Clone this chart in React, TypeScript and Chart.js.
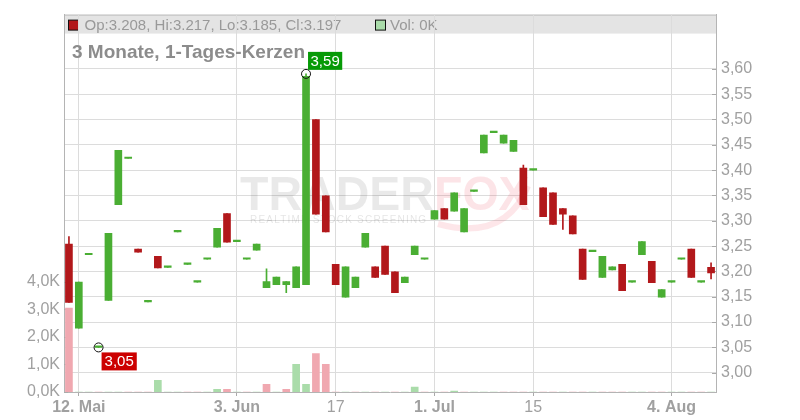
import { useEffect, useRef } from 'react';
import { Chart, registerables } from 'chart.js';

Chart.register(...registerables);

const dates = ['09.05','12.05','13.05','14.05','15.05','16.05','19.05','20.05','21.05','22.05','23.05','26.05','27.05','28.05','29.05','30.05','02.06','03.06','04.06','05.06','06.06','09.06','10.06','11.06','12.06','13.06','16.06','17.06','18.06','19.06','20.06','23.06','24.06','25.06','26.06','27.06','30.06','01.07','02.07','03.07','04.07','07.07','08.07','09.07','10.07','11.07','14.07','15.07','16.07','17.07','18.07','21.07','22.07','23.07','24.07','25.07','28.07','29.07','30.07','31.07','01.08','04.08','05.08','06.08','07.08','08.08'];

const opens = [
  3.254, 3.088, 3.233, 3.050, 3.143, 3.332, 3.423, 3.244, 3.140, 3.230,
  3.208, 3.278, 3.214, 3.179, 3.224, 3.248, 3.314, 3.259, 3.224, 3.242,
  3.168, 3.174, 3.174, 3.168, 3.174, 3.500, 3.349, 3.214, 3.149, 3.168,
  3.248, 3.209, 3.250, 3.199, 3.178, 3.233, 3.224, 3.303, 3.324, 3.319,
  3.278, 3.358, 3.434, 3.474, 3.453, 3.437, 3.404, 3.400, 3.365, 3.355,
  3.324, 3.310, 3.244, 3.239, 3.188, 3.203, 3.214, 3.179, 3.233, 3.220,
  3.149, 3.179, 3.224, 3.244, 3.179, 3.208,
];
const closes = [
  3.139, 3.179, 3.233, 3.050, 3.275, 3.439, 3.423, 3.238, 3.140, 3.207,
  3.208, 3.278, 3.214, 3.179, 3.224, 3.285, 3.258, 3.259, 3.224, 3.254,
  3.180, 3.189, 3.180, 3.209, 3.585, 3.313, 3.278, 3.174, 3.209, 3.189,
  3.275, 3.188, 3.194, 3.158, 3.189, 3.250, 3.224, 3.320, 3.303, 3.355,
  3.324, 3.358, 3.469, 3.474, 3.469, 3.459, 3.332, 3.400, 3.308, 3.293,
  3.313, 3.274, 3.184, 3.239, 3.230, 3.209, 3.162, 3.179, 3.259, 3.178,
  3.164, 3.179, 3.224, 3.188, 3.179, 3.197,
];
const highs = [
  3.269, 3.179, 3.233, 3.050, 3.275, 3.439, 3.423, 3.244, 3.140, 3.230,
  3.208, 3.278, 3.214, 3.179, 3.224, 3.285, 3.314, 3.259, 3.224, 3.254,
  3.205, 3.189, 3.180, 3.209, 3.590, 3.500, 3.349, 3.214, 3.209, 3.189,
  3.275, 3.209, 3.250, 3.199, 3.189, 3.250, 3.224, 3.320, 3.324, 3.355,
  3.324, 3.358, 3.469, 3.474, 3.469, 3.459, 3.410, 3.400, 3.365, 3.355,
  3.324, 3.310, 3.244, 3.239, 3.230, 3.209, 3.214, 3.179, 3.259, 3.220,
  3.164, 3.179, 3.224, 3.244, 3.179, 3.217,
];
const lows = [
  3.139, 3.088, 3.233, 3.050, 3.143, 3.332, 3.423, 3.238, 3.140, 3.207,
  3.208, 3.278, 3.214, 3.179, 3.224, 3.248, 3.258, 3.259, 3.224, 3.242,
  3.168, 3.174, 3.158, 3.168, 3.174, 3.313, 3.278, 3.174, 3.149, 3.168,
  3.248, 3.188, 3.194, 3.158, 3.178, 3.233, 3.224, 3.303, 3.303, 3.319,
  3.278, 3.358, 3.434, 3.474, 3.453, 3.437, 3.332, 3.400, 3.308, 3.293,
  3.283, 3.274, 3.184, 3.239, 3.188, 3.203, 3.162, 3.179, 3.233, 3.178,
  3.149, 3.179, 3.224, 3.188, 3.179, 3.185,
];
// volume in thousands
const volumes = [
  3.04, 0, 0, 0, 0, 0, 0, 0, 0, 0.42,
  0, 0, 0, 0, 0, 0.10, 0.10, 0, 0, 0,
  0.28, 0, 0.10, 1.00, 0.28, 1.39, 1.00, 0, 0, 0,
  0, 0, 0, 0, 0, 0.18, 0, 0, 0, 0.03,
  0, 0, 0, 0, 0, 0, 0, 0, 0, 0,
  0, 0, 0, 0, 0, 0, 0, 0, 0, 0,
  0, 0, 0, 0, 0, 0,
];

const priceTicks = [3.00, 3.05, 3.10, 3.15, 3.20, 3.25, 3.30, 3.35, 3.40, 3.45, 3.50, 3.55, 3.60];
const volumeTicks = [0, 1, 2, 3, 4];
const tickDates = ['12.05', '03.06', '17.06', '01.07', '15.07', '04.08'];
const tickTexts = ['12. Mai', '3. Jun', '17', '1. Jul', '15', '4. Aug'];
const tickBold = [true, true, false, true, false, true];
const titleText = '3 Monate, 1-Tages-Kerzen';

const UP = '#4aae33';
const DOWN = '#b2181b';
const VOL_UP = '#aadcaa';
const VOL_DOWN = '#f0a8b0';
const GRID = '#dcdcdc';
const AXIS = '#b4b4b4';
const TEXT = '#a0a0a0';
const FONT = '"Liberation Sans", Arial, Helvetica, sans-serif';

const fmt2 = (v: number) => v.toFixed(2).replace('.', ',');

const headerPlugin = {
  id: 'header',
  beforeDraw(chart: any) {
    const { ctx, chartArea: a } = chart;
    const last = opens.length - 1;
    ctx.save();
    ctx.fillStyle = '#e4e4e4';
    ctx.fillRect(a.left, a.top, a.right - a.left, 19);
    ctx.strokeStyle = '#bcbcbc';
    ctx.lineWidth = 1;
    ctx.beginPath();
    ctx.moveTo(a.left, a.top + 0.5);
    ctx.lineTo(a.right, a.top + 0.5);
    ctx.stroke();
    // candle legend square
    ctx.fillStyle = closes[last] >= opens[last] ? UP : DOWN;
    ctx.fillRect(a.left + 4.5, a.top + 5.5, 10, 10);
    ctx.strokeStyle = '#111';
    ctx.strokeRect(a.left + 4.5, a.top + 5.5, 10, 10);
    ctx.font = `15px ${FONT}`;
    ctx.fillStyle = '#999999';
    ctx.textBaseline = 'alphabetic';
    ctx.fillText(
      `Op:${opens[last].toFixed(3)}, Hi:${highs[last].toFixed(3)}, Lo:${lows[last].toFixed(3)}, Cl:${closes[last].toFixed(3)}`,
      a.left + 20.5, a.top + 15.5
    );
    // volume legend square
    ctx.fillStyle = VOL_UP;
    ctx.fillRect(a.left + 311.5, a.top + 5.5, 10, 10);
    ctx.strokeStyle = '#111';
    ctx.strokeRect(a.left + 311.5, a.top + 5.5, 10, 10);
    ctx.fillStyle = '#999999';
    ctx.fillText(`Vol: ${Math.round(volumes[last])}K`, a.left + 326, a.top + 15.5);
    ctx.restore();
  },
  beforeDatasetsDraw(chart: any) {
    const { ctx, chartArea: a, scales } = chart;
    ctx.save();
    // watermark
    ctx.font = `bold 49px ${FONT}`;
    ctx.textBaseline = 'alphabetic';
    ctx.save();
    ctx.translate(240, 210);
    ctx.scale(0.95, 1);
    ctx.fillStyle = 'rgba(0,0,0,0.085)';
    ctx.fillText('TRADER', 0, 0);
    const w = ctx.measureText('TRADER').width;
    ctx.fillStyle = 'rgba(235,50,70,0.13)';
    ctx.fillText('FOX', w, 0);
    ctx.restore();
    ctx.strokeStyle = 'rgba(235,50,70,0.12)';
    ctx.lineWidth = 6;
    ctx.beginPath();
    ctx.moveTo(438, 224);
    ctx.quadraticCurveTo(505, 242, 528, 186);
    ctx.stroke();
    ctx.font = `10px ${FONT}`;
    (ctx as any).letterSpacing = '1.2px';
    ctx.fillStyle = 'rgba(0,0,0,0.11)';
    ctx.fillText('REALTIME STOCK SCREENING', 250, 223);
    (ctx as any).letterSpacing = '0px';
    // title
    ctx.font = `bold 19px ${FONT}`;
    ctx.fillStyle = '#8c8c8c';
    ctx.fillText(titleText, a.left + 8, a.top + 43);
    // inner tick marks
    ctx.strokeStyle = '#aaaaaa';
    ctx.lineWidth = 1;
    const ys = scales.y;
    ys.ticks.forEach((t: any) => {
      const py = Math.round(ys.getPixelForValue(t.value)) + 0.5;
      ctx.beginPath();
      ctx.moveTo(a.right - 4, py);
      ctx.lineTo(a.right, py);
      ctx.stroke();
    });
    const vs = scales.y1;
    vs.ticks.forEach((t: any) => {
      const py = Math.round(vs.getPixelForValue(t.value)) + 0.5;
      ctx.beginPath();
      ctx.moveTo(a.left, py);
      ctx.lineTo(a.left + 4, py);
      ctx.stroke();
    });
    ctx.restore();
  },
  afterDatasetsDraw(chart: any) {
    const { ctx, scales } = chart;
    let hi = 0;
    let lo = 0;
    highs.forEach((v, i) => { if (v > highs[hi]) hi = i; });
    lows.forEach((v, i) => { if (v < lows[lo]) lo = i; });
    ctx.save();
    ctx.font = `15px ${FONT}`;
    ctx.textBaseline = 'middle';
    ctx.textAlign = 'center';
    const marker = (cx: number, cy: number) => {
      ctx.beginPath();
      ctx.arc(cx, cy, 4.5, 0, Math.PI * 2);
      ctx.strokeStyle = '#111';
      ctx.lineWidth = 1;
      ctx.stroke();
    };
    const hx = scales.x.getPixelForValue(hi);
    const hy = scales.y.getPixelForValue(highs[hi]);
    marker(hx, hy);
    const ht = fmt2(highs[hi]);
    const hw = ctx.measureText(ht).width + 5;
    ctx.fillStyle = '#069a06';
    ctx.fillRect(hx + 2, hy - 22, hw, 18);
    ctx.fillStyle = '#ffffff';
    ctx.fillText(ht, hx + 2 + hw / 2, hy - 12.5);

    const lx = scales.x.getPixelForValue(lo);
    const ly = scales.y.getPixelForValue(lows[lo]);
    marker(lx, ly);
    const lt = fmt2(lows[lo]);
    const lw = ctx.measureText(lt).width + 6;
    ctx.fillStyle = '#cc0000';
    ctx.fillRect(lx + 3, ly + 5, lw, 18);
    ctx.fillStyle = '#ffffff';
    ctx.fillText(lt, lx + 3 + lw / 2, ly + 14.5);
    ctx.restore();
  },
};

export default function App() {
  const ref = useRef<HTMLCanvasElement>(null);

  useEffect(() => {
    if (!ref.current) return;
    const candleColors = opens.map((o, i) => (closes[i] >= o ? UP : DOWN));
    const volColors = volumes.map((_, i) => (i > 0 && closes[i] >= closes[i - 1] ? VOL_UP : VOL_DOWN));

    const chart = new Chart(ref.current, {
      type: 'bar',
      data: {
        labels: dates,
        datasets: [
          {
            label: 'Vol',
            data: volumes,
            yAxisID: 'y1',
            backgroundColor: volColors,
            barThickness: 7,
            grouped: false,
            order: 3,
          } as any,
          {
            label: 'Wick',
            data: lows.map((l, i) => [l, highs[i]]),
            yAxisID: 'y',
            backgroundColor: candleColors,
            barThickness: 1,
            grouped: false,
            order: 2,
          } as any,
          {
            label: 'Body',
            data: opens.map((o, i) => [o, closes[i]]),
            yAxisID: 'y',
            backgroundColor: candleColors,
            barThickness: 7,
            minBarLength: 1.5,
            grouped: false,
            order: 1,
          } as any,
        ],
      },
      options: {
        responsive: false,
        animation: false,
        events: [],
        layout: { padding: { top: 11, left: 0, right: 0, bottom: 0 } },
        plugins: { legend: { display: false }, tooltip: { enabled: false } },
        scales: {
          x: {
            type: 'category',
            offset: true,
            grid: { color: GRID, offset: false, tickLength: 4, tickColor: '#aaaaaa' },
            border: { color: AXIS },
            afterBuildTicks: (scale: any) => {
              scale.ticks = scale.ticks.filter((t: any) => tickDates.includes(dates[t.value]));
            },
            afterFit: (scale: any) => { scale.height = 28; },
            ticks: {
              autoSkip: false,
              maxRotation: 0,
              color: TEXT,
              padding: 2,
              font: (c: any) => ({ size: 16, family: FONT, weight: tickBold[c.index] ? 'bold' : 'normal' }),
              callback: (value: any) => tickTexts[tickDates.indexOf(dates[value as number])],
            },
          },
          y: {
            type: 'linear',
            position: 'right',
            min: 2.962,
            max: 3.707,
            grid: { color: GRID, drawTicks: false },
            border: { color: AXIS },
            afterBuildTicks: (scale: any) => { scale.ticks = priceTicks.map((v) => ({ value: v })); },
            afterFit: (scale: any) => { scale.width = 84; },
            ticks: {
              color: TEXT,
              padding: 5,
              font: { size: 16, family: FONT },
              callback: (v: any) => fmt2(Number(v)),
            },
          },
          y1: {
            type: 'linear',
            position: 'left',
            min: 0,
            max: 13.68,
            grid: { display: false, drawTicks: false },
            border: { color: AXIS },
            afterBuildTicks: (scale: any) => { scale.ticks = volumeTicks.map((v) => ({ value: v })); },
            afterFit: (scale: any) => { scale.width = 64; },
            ticks: {
              color: TEXT,
              padding: 4,
              font: { size: 16, family: FONT },
              callback: (v: any) => `${Number(v).toFixed(1).replace('.', ',')}K`,
            },
          },
        },
      } as any,
      plugins: [headerPlugin],
    });
    return () => chart.destroy();
  }, []);

  return (
    <div style={{ position: 'absolute', left: 0, top: 0, width: 800, height: 420, background: '#fff' }}>
      <canvas ref={ref} width={800} height={420} />
    </div>
  );
}
